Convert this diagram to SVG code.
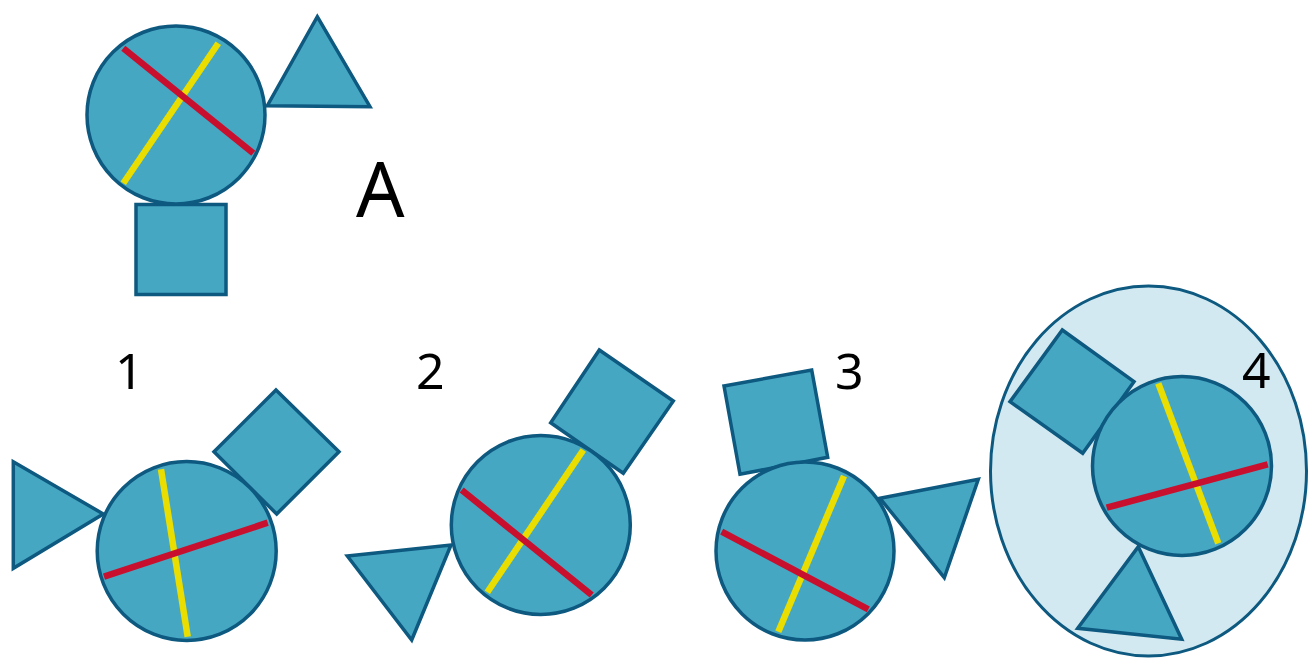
<svg xmlns="http://www.w3.org/2000/svg" width="1308" height="660" viewBox="0 0 1308 660">
<style>
.s{fill:#46a7c3;stroke:#0d5980;stroke-width:3.5;stroke-linejoin:miter}
.bg{fill:#d2e9f1;stroke:#0d5980;stroke-width:3}
.r{stroke:#c8102e;stroke-width:6.5;fill:none}
.y{stroke:#e9de00;stroke-width:6.5;fill:none}
.t{font-family:"Noto Sans","Open Sans",sans-serif;fill:#000}
</style>
<rect width="1308" height="660" fill="#fff"/>
<g id="figA">
<polygon class="s" points="317.3,16.7 370,106.7 267.3,105.7"/>
<rect class="s" x="136" y="204.5" width="90" height="90"/>
<circle class="s" cx="176" cy="115" r="89"/>
<line class="y" x1="218.3" y1="43.3" x2="123.3" y2="183.3"/>
<line class="r" x1="123.3" y1="48.3" x2="253.3" y2="153.3"/>
<text class="t" x="356" y="217" font-size="76">A</text>
</g>
<g id="fig1">
<polygon class="s" points="13.3,461.7 13.3,568.3 103.3,514"/>
<polygon class="s" points="276,390 339,451.7 276.7,514 214,451.7"/>
<circle class="s" cx="186.7" cy="551" r="89.5"/>
<line class="y" x1="161" y1="469.3" x2="187.7" y2="636.7"/>
<line class="r" x1="104" y1="576.7" x2="267.7" y2="522.7"/>
<text class="t" x="115" y="389" font-size="50">1</text>
</g>
<g id="fig2">
<polygon class="s" points="347.3,556 451,545 411.7,640"/>
<polygon class="s" points="599.3,350 673.3,401 623.3,473.3 550.7,422.7"/>
<circle class="s" cx="540.8" cy="525" r="89.5"/>
<line class="y" x1="583.3" y1="450" x2="487.3" y2="592.3"/>
<line class="r" x1="461.7" y1="490" x2="591.7" y2="595"/>
<text class="t" x="416" y="389" font-size="50">2</text>
</g>
<g id="fig3">
<polygon class="s" points="724,386 811.7,370 827.7,457.3 740,474.3"/>
<polygon class="s" points="880,498.3 978.3,479.3 944.3,577.7"/>
<circle class="s" cx="805" cy="551" r="89"/>
<line class="y" x1="844" y1="476" x2="778.3" y2="631.7"/>
<line class="r" x1="721.7" y1="531.7" x2="868.3" y2="609.3"/>
<text class="t" x="835" y="389" font-size="50">3</text>
</g>
<g id="fig4">
<ellipse class="bg" cx="1148.5" cy="471" rx="158" ry="185"/>
<polygon class="s" points="1062.3,330 1134,381.7 1082.7,453.3 1010,401.7"/>
<polygon class="s" points="1138.3,546.7 1181.7,639.3 1077.7,628.3"/>
<circle class="s" cx="1182" cy="466" r="89.5"/>
<line class="y" x1="1158.3" y1="383.3" x2="1218.3" y2="543.3"/>
<line class="r" x1="1106.7" y1="507.7" x2="1267.7" y2="464.3"/>
<text class="t" x="1242" y="388" font-size="50">4</text>
</g>
</svg>
